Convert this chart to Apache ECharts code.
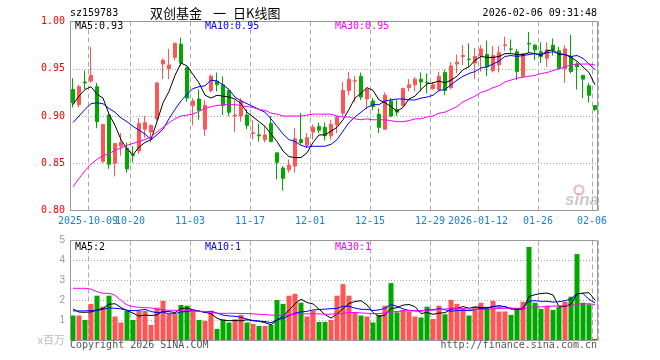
<!DOCTYPE html>
<html><head><meta charset="utf-8">
<script src="https://cdn.jsdelivr.net/npm/echarts@6/dist/echarts.min.js"></script>
<style>html,body{margin:0;padding:0;background:#fff}#c{width:660px;height:360px}</style>
</head><body><div id="c"></div>
<script>
const dates = ['2025-09-26','2025-09-29','2025-09-30','2025-10-09','2025-10-10','2025-10-13','2025-10-14','2025-10-15','2025-10-16','2025-10-17',
'2025-10-20','2025-10-21','2025-10-22','2025-10-23','2025-10-24','2025-10-27','2025-10-28','2025-10-29','2025-10-30','2025-10-31',
'2025-11-03','2025-11-04','2025-11-05','2025-11-06','2025-11-07','2025-11-10','2025-11-11','2025-11-12','2025-11-13','2025-11-14',
'2025-11-17','2025-11-18','2025-11-19','2025-11-20','2025-11-21','2025-11-24','2025-11-25','2025-11-26','2025-11-27','2025-11-28',
'2025-12-01','2025-12-02','2025-12-03','2025-12-04','2025-12-05','2025-12-08','2025-12-09','2025-12-10','2025-12-11','2025-12-12',
'2025-12-15','2025-12-16','2025-12-17','2025-12-18','2025-12-19','2025-12-22','2025-12-23','2025-12-24','2025-12-25','2025-12-26',
'2025-12-29','2025-12-30','2025-12-31','2026-01-05','2026-01-06','2026-01-07','2026-01-08','2026-01-09','2026-01-12','2026-01-13',
'2026-01-14','2026-01-15','2026-01-16','2026-01-19','2026-01-20','2026-01-21','2026-01-22','2026-01-23','2026-01-26','2026-01-27',
'2026-01-28','2026-01-29','2026-01-30','2026-02-02','2026-02-03','2026-02-04','2026-02-05','2026-02-06'];

const openP = [0.928,0.912,0.936,0.937,0.931,0.852,0.901,0.850,0.868,0.866,
0.859,0.863,0.886,0.883,0.897,0.955,0.950,0.962,0.976,0.951,
0.911,0.918,0.886,0.927,0.937,0.933,0.927,0.900,0.900,0.901,
0.8815,0.880,0.875,0.892,0.861,0.845,0.843,0.847,0.875,0.869,
0.883,0.889,0.888,0.879,0.891,0.903,0.927,0.9369,0.942,0.918,
0.916,0.902,0.886,0.916,0.907,0.911,0.930,0.933,0.939,0.9357,
0.929,0.928,0.946,0.930,0.955,0.963,0.9603,0.956,0.964,0.965,
0.948,0.954,0.9748,0.9710,0.968,0.942,0.9769,0.975,0.968,0.961,
0.975,0.969,0.950,0.963,0.955,0.943,0.932,0.911];
const closeP = [0.914,0.931,0.935,0.943,0.894,0.891,0.849,0.871,0.872,0.844,
0.858,0.892,0.893,0.890,0.935,0.959,0.954,0.977,0.956,0.919,
0.916,0.906,0.911,0.942,0.933,0.911,0.904,0.901,0.916,0.890,
0.8822,0.879,0.880,0.873,0.851,0.834,0.848,0.876,0.872,0.877,
0.888,0.885,0.879,0.891,0.899,0.927,0.939,0.9373,0.920,0.928,
0.910,0.888,0.922,0.900,0.904,0.929,0.933,0.939,0.936,0.9353,
0.933,0.942,0.927,0.953,0.957,0.964,0.9599,0.963,0.971,0.952,
0.964,0.967,0.9752,0.9706,0.947,0.966,0.9762,0.970,0.963,0.970,
0.970,0.950,0.971,0.947,0.952,0.939,0.922,0.907];
const lowP = [0.909,0.909,0.928,0.935,0.887,0.850,0.844,0.836,0.858,0.840,
0.851,0.860,0.877,0.872,0.895,0.939,0.939,0.959,0.953,0.915,
0.890,0.896,0.879,0.925,0.926,0.901,0.900,0.883,0.894,0.886,
0.875,0.873,0.872,0.872,0.833,0.821,0.840,0.840,0.870,0.866,
0.875,0.882,0.874,0.875,0.882,0.900,0.922,0.915,0.917,0.907,
0.906,0.882,0.886,0.899,0.900,0.910,0.926,0.926,0.926,0.924,
0.928,0.926,0.922,0.928,0.945,0.954,0.952,0.939,0.947,0.942,
0.946,0.946,0.969,0.967,0.938,0.940,0.967,0.959,0.956,0.952,
0.964,0.950,0.935,0.945,0.928,0.919,0.914,0.905];
const highP = [0.940,0.933,0.948,0.973,0.935,0.891,0.902,0.871,0.882,0.872,
0.868,0.898,0.900,0.891,0.936,0.961,0.971,0.977,0.983,0.952,
0.919,0.928,0.917,0.944,0.946,0.942,0.929,0.917,0.919,0.907,
0.896,0.892,0.889,0.900,0.861,0.847,0.854,0.887,0.903,0.882,
0.891,0.893,0.893,0.896,0.900,0.936,0.947,0.942,0.946,0.930,
0.919,0.908,0.925,0.919,0.917,0.930,0.939,0.941,0.946,0.945,
0.936,0.947,0.949,0.957,0.965,0.975,0.977,0.972,0.975,0.980,
0.974,0.974,0.984,0.981,0.971,0.966,0.989,0.976,0.978,0.978,
0.982,0.973,0.975,0.986,0.957,0.943,0.935,0.911];

const ma5 = [0.912,0.921,0.928,0.931,0.923,0.919,0.902,0.890,0.875,0.865,
0.859,0.867,0.872,0.875,0.894,0.914,0.926,0.943,0.956,0.953,
0.944,0.935,0.922,0.919,0.922,0.921,0.920,0.918,0.913,0.904,
0.899,0.894,0.889,0.881,0.873,0.863,0.857,0.856,0.856,0.861,
0.872,0.880,0.880,0.884,0.888,0.896,0.907,0.919,0.924,0.930,
0.927,0.917,0.914,0.910,0.905,0.909,0.918,0.921,0.928,0.934,
0.935,0.937,0.935,0.938,0.942,0.949,0.952,0.959,0.963,0.962,
0.962,0.963,0.966,0.966,0.965,0.965,0.967,0.966,0.964,0.969,
0.970,0.965,0.965,0.962,0.958,0.952,0.946,0.933];
const ma10 = [0.893,0.900,0.907,0.913,0.914,0.913,0.908,0.904,0.898,0.894,
0.889,0.885,0.881,0.875,0.880,0.886,0.897,0.907,0.916,0.923,
0.929,0.931,0.932,0.938,0.937,0.933,0.928,0.920,0.916,0.913,
0.910,0.907,0.904,0.897,0.889,0.881,0.875,0.873,0.869,0.867,
0.868,0.868,0.868,0.870,0.875,0.884,0.893,0.899,0.904,0.909,
0.912,0.912,0.916,0.917,0.918,0.918,0.917,0.917,0.919,0.920,
0.922,0.927,0.928,0.933,0.938,0.942,0.945,0.947,0.951,0.952,
0.955,0.958,0.963,0.964,0.963,0.964,0.965,0.966,0.965,0.967,
0.968,0.966,0.965,0.963,0.964,0.961,0.955,0.949];
const ma30 = [0.825,0.834,0.842,0.849,0.854,0.858,0.860,0.864,0.866,0.869,
0.871,0.873,0.875,0.878,0.883,0.888,0.893,0.897,0.900,0.901,
0.902,0.905,0.908,0.910,0.911,0.912,0.912,0.912,0.911,0.910,
0.909,0.907,0.906,0.903,0.902,0.900,0.900,0.900,0.900,0.901,
0.902,0.902,0.902,0.902,0.900,0.899,0.899,0.897,0.896,0.897,
0.896,0.896,0.896,0.895,0.894,0.894,0.895,0.897,0.897,0.899,
0.900,0.903,0.904,0.907,0.910,0.915,0.918,0.921,0.925,0.927,
0.930,0.932,0.936,0.938,0.940,0.941,0.942,0.943,0.945,0.946,
0.948,0.950,0.952,0.954,0.955,0.955,0.955,0.954];

const volume = [1.25,1.25,1.03,1.83,2.24,1.69,2.24,1.20,0.90,1.48,
1.03,1.48,1.48,0.78,1.64,1.98,1.31,1.31,1.78,1.74,
1.53,1.03,0.98,1.41,0.58,1.06,0.90,1.06,1.28,0.90,
0.83,0.73,0.73,0.78,2.03,1.83,2.24,2.33,1.89,1.20,
1.50,0.93,0.93,1.03,2.24,2.82,2.24,1.41,1.25,1.20,
0.90,1.28,1.74,2.87,1.41,1.53,1.45,1.20,1.15,1.69,
1.08,1.74,1.31,2.03,1.83,1.61,1.25,1.69,1.89,1.69,
1.98,1.45,1.45,1.28,1.64,1.94,4.68,1.89,1.58,1.74,
1.53,1.69,1.94,2.19,4.32,1.89,1.81,0.08];
const volMa5 = [1.58,1.42,1.41,1.43,1.52,1.61,1.81,1.84,1.65,1.50,
1.37,1.22,1.27,1.25,1.28,1.47,1.44,1.40,1.60,1.62,
1.53,1.48,1.41,1.34,1.11,1.01,0.99,1.00,0.98,1.04,
0.99,0.96,0.89,0.79,1.02,1.22,1.52,1.84,2.06,1.90,
1.83,1.57,1.29,1.12,1.33,1.59,1.85,1.95,1.99,1.78,
1.40,1.21,1.27,1.60,1.64,1.77,1.80,1.69,1.35,1.40,
1.31,1.37,1.39,1.57,1.60,1.70,1.61,1.68,1.65,1.63,
1.70,1.74,1.69,1.57,1.56,1.55,2.20,2.29,2.35,2.37,
2.28,1.69,1.70,1.82,2.33,2.37,2.39,2.02];
const volMa10 = [1.48,1.48,1.48,1.50,1.51,1.56,1.63,1.61,1.58,1.51,
1.49,1.51,1.56,1.45,1.39,1.42,1.33,1.34,1.43,1.45,
1.50,1.46,1.41,1.47,1.37,1.27,1.23,1.21,1.16,1.07,
1.00,0.97,0.95,0.89,1.03,1.11,1.24,1.37,1.43,1.46,
1.53,1.55,1.57,1.59,1.61,1.71,1.71,1.62,1.56,1.56,
1.50,1.53,1.61,1.80,1.71,1.58,1.50,1.48,1.47,1.52,
1.54,1.59,1.54,1.46,1.50,1.51,1.49,1.54,1.61,1.61,
1.70,1.67,1.69,1.61,1.59,1.63,1.97,1.99,1.96,1.96,
1.92,1.94,1.99,2.08,2.35,2.35,2.06,1.88];
const volMa30 = [2.61,2.61,2.61,2.57,2.44,2.36,2.36,2.26,2.01,1.78,
1.69,1.66,1.64,1.63,1.58,1.53,1.51,1.51,1.51,1.50,
1.48,1.46,1.45,1.41,1.36,1.36,1.36,1.36,1.35,1.35,
1.33,1.31,1.30,1.27,1.26,1.27,1.27,1.31,1.34,1.33,
1.34,1.33,1.31,1.32,1.34,1.36,1.40,1.40,1.38,1.36,
1.34,1.35,1.38,1.42,1.45,1.47,1.49,1.49,1.49,1.51,
1.52,1.55,1.57,1.62,1.61,1.60,1.57,1.55,1.55,1.56,
1.58,1.60,1.61,1.62,1.60,1.57,1.65,1.67,1.68,1.70,
1.72,1.73,1.74,1.72,1.82,1.83,1.84,1.80];

const tickDates = ['2025-10-09','2025-10-20','2025-11-03','2025-11-17','2025-12-01','2025-12-15','2025-12-29','2026-01-12','2026-01-26','2026-02-06'];
const tickLabels = ['2025-10-09','10-20','11-03','11-17','12-01','12-15','12-29','2026-01-12','01-26','02-06'];

const RED = '#ff5555', GREEN = '#00a800';
const MONO = '"DejaVu Sans Mono", "Liberation Mono", monospace';
const isTick = (i, v) => tickDates.indexOf(v) >= 0;
// the first label overlaps the second one, as in the original; it is put on its own axis so both show
const isFirstTick = (i, v) => v === tickDates[0];
const isOtherTick = (i, v) => tickDates.indexOf(v) > 0;

const chart = echarts.init(document.getElementById('c'), null, {renderer: 'canvas'});
const candleData = dates.map((d, i) => [openP[i], closeP[i], lowP[i], highP[i]]);
const volData = volume.map((v, i) => ({value: v, itemStyle: {color: closeP[i] >= openP[i] ? RED : GREEN}}));

function txt(x, y, text, color, font, align) {
  return {type: 'text', x: x, y: y, z: 100, silent: true,
    style: {text: text, fill: color, font: font, align: align || 'left', verticalAlign: 'middle',
            textAlign: align || 'left', textVerticalAlign: 'middle'}};
}
const vSplit = {show: true, interval: isTick, lineStyle: {color: '#aaaaaa', type: [5, 3], width: 1}};
const hSplit = {show: true, lineStyle: {color: '#aaaaaa', type: [1, 2], width: 1}};
function maLine(data, color, xi) {
  return {type: 'line', data: data, xAxisIndex: xi, yAxisIndex: xi, showSymbol: false, symbol: 'none',
    lineStyle: {color: color, width: 1}, itemStyle: {color: color}, z: 5, silent: true, animation: false};
}
const dateLabel = (fn) => ({interval: fn, formatter: v => tickLabels[tickDates.indexOf(v)], hideOverlap: false,
  color: '#1a7fd4', fontFamily: MONO, fontSize: 10, margin: 6, padding: [0, 6, 0, 0]});

chart.setOption({
  animation: false,
  backgroundColor: '#ffffff',
  grid: [
    {left: 70, top: 21.5, width: 528, height: 189, show: false},
    {left: 70, top: 240.5, width: 528, height: 100, show: false}
  ],
  xAxis: [
    {type: 'category', gridIndex: 0, data: dates, boundaryGap: true,
     axisLine: {show: false}, axisTick: {show: false},
     axisLabel: dateLabel(isOtherTick), splitLine: vSplit},
    {type: 'category', gridIndex: 1, data: dates, boundaryGap: true,
     axisLine: {show: false}, axisTick: {show: false}, axisLabel: {show: false},
     splitLine: vSplit},
    {type: 'category', gridIndex: 0, data: dates, boundaryGap: true, position: 'bottom',
     axisLine: {show: false}, axisTick: {show: false}, splitLine: {show: false},
     axisLabel: dateLabel(isFirstTick)}
  ],
  yAxis: [
    {type: 'value', gridIndex: 0, min: 0.8, max: 1.0, interval: 0.05,
     axisLine: {show: false}, axisTick: {show: false},
     axisLabel: {color: '#ff0000', fontFamily: MONO, fontSize: 10, margin: 5, formatter: v => v.toFixed(2)},
     splitLine: hSplit},
    {type: 'value', gridIndex: 1, min: 0, max: 5, interval: 1,
     axisLine: {show: false}, axisTick: {show: false},
     axisLabel: {color: '#999999', fontFamily: '"Liberation Sans", Arial, sans-serif', fontSize: 10, margin: 5,
                 formatter: v => (v === 0 ? '' : String(v))},
     splitLine: hSplit}
  ],
  series: [
    {type: 'candlestick', data: candleData, xAxisIndex: 0, yAxisIndex: 0, barWidth: 4, z: 3,
     itemStyle: {color: RED, color0: GREEN, borderColor: RED, borderColor0: GREEN, borderWidth: 1}},
    maLine(ma5, '#000000', 0), maLine(ma10, '#0000ff', 0), maLine(ma30, '#ff00ff', 0),
    {type: 'bar', data: volData, xAxisIndex: 1, yAxisIndex: 1, barWidth: 5, z: 3, silent: true},
    maLine(volMa5, '#000000', 1), maLine(volMa10, '#0000ff', 1), maLine(volMa30, '#ff00ff', 1)
  ],
  graphic: [
    {type: 'rect', z: 50, silent: true, shape: {x: 70.5, y: 21.5, width: 527, height: 189},
     style: {fill: null, stroke: '#999999', lineWidth: 1}},
    {type: 'rect', z: 50, silent: true, shape: {x: 70.5, y: 240.5, width: 527, height: 100},
     style: {fill: null, stroke: '#999999', lineWidth: 1}},
    txt(70, 13, 'sz159783', '#000', '10px ' + MONO),
    txt(150, 13, '双创基金', '#000', '13px "Noto Sans CJK SC"'),
    txt(213, 13, '一', '#000', '13px "Noto Sans CJK SC"'),
    txt(233, 13, '日K线图', '#000', '13px "Noto Sans CJK SC"'),
    txt(597, 13, '2026-02-06 09:31:48', '#000', '10px ' + MONO, 'right'),
    txt(75, 26, 'MA5:0.93', '#000000', '10px ' + MONO),
    txt(205, 26, 'MA10:0.95', '#0000ff', '10px ' + MONO),
    txt(335, 26, 'MA30:0.95', '#ff00ff', '10px ' + MONO),
    txt(75, 247, 'MA5:2', '#000000', '10px ' + MONO),
    txt(205, 247, 'MA10:1', '#0000ff', '10px ' + MONO),
    txt(335, 247, 'MA30:1', '#ff00ff', '10px ' + MONO),
    txt(65, 340, 'x百万', '#bbbbbb', '11px "Noto Sans CJK SC"', 'right'),
    txt(70, 345, 'Copyright 2026 SINA.COM', '#555555', '10px ' + MONO),
    txt(597, 345, 'http://finance.sina.com.cn', '#555555', '10px ' + MONO, 'right'),
    {type: 'circle', z: 40, silent: true, shape: {cx: 579, cy: 190, r: 4.5},
     style: {fill: null, stroke: 'rgba(230,90,90,0.45)', lineWidth: 2}},
    txt(565, 200, 'sina', 'rgba(150,150,150,0.5)', 'italic bold 17px "Liberation Sans"')
  ]
});
</script>
</body></html>
